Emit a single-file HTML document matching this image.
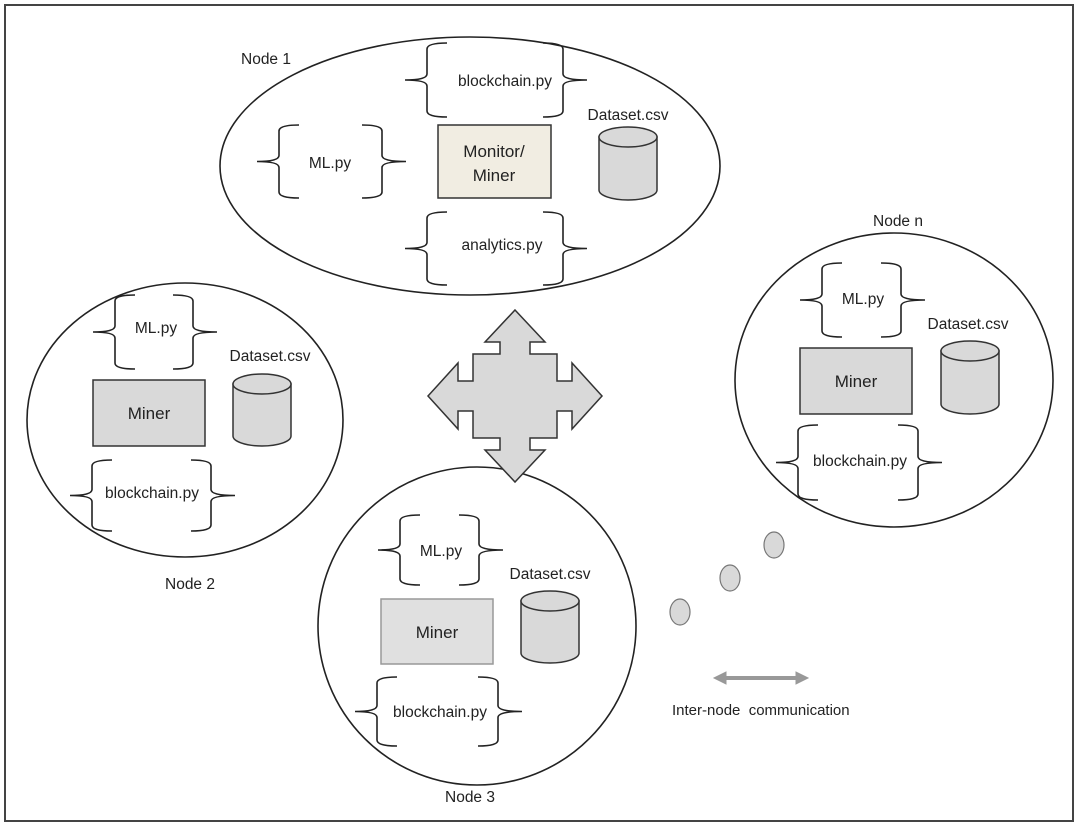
<!DOCTYPE html>
<html><head><meta charset="utf-8"><style>
html,body{margin:0;padding:0;background:#fff;}
svg{display:block}
text{font-family:"Liberation Sans",Arial,sans-serif;fill:#222;}
</style></head><body>
<svg id="s" width="1080" height="823" viewBox="0 0 1080 823" xmlns="http://www.w3.org/2000/svg">
<rect x="5" y="5" width="1068" height="816" fill="#fff" stroke="#444" stroke-width="2"/>
<g fill="none" stroke="#222" stroke-width="1.6">
<ellipse cx="470" cy="166" rx="250" ry="129"/>
<ellipse cx="185" cy="420" rx="158" ry="137"/>
<ellipse cx="894" cy="380" rx="159" ry="147"/>
<ellipse cx="477" cy="626" rx="159" ry="159"/>
</g>
<polygon transform="translate(515,396)" fill="#d9d9d9" stroke="#333" stroke-width="1.5" points="0,-86 30,-54 15,-54 15,-42 42,-42 42,-15 57,-15 57,-33 87,0 57,33 57,15 42,15 42,42 15,42 15,54 30,54 0,86 -30,54 -15,54 -15,42 -42,42 -42,15 -57,15 -57,33 -87,0 -57,-33 -57,-15 -42,-15 -42,-42 -15,-42 -15,-54 -30,-54"/>
<g id="br" fill="none" stroke="#222" stroke-width="1.6"></g>
<g id="cy"></g>
<rect x="438" y="125" width="113" height="73" fill="#f1ede2" stroke="#333" stroke-width="1.5"/>
<rect x="93" y="380" width="112" height="66" fill="#d9d9d9" stroke="#333" stroke-width="1.5"/>
<rect x="800" y="348" width="112" height="66" fill="#d9d9d9" stroke="#333" stroke-width="1.5"/>
<rect x="381" y="599" width="112" height="65" fill="#e0e0e0" stroke="#999" stroke-width="1.5"/>
<g fill="#d9d9d9" stroke="#777" stroke-width="1.2">
<ellipse cx="680" cy="612" rx="10" ry="13"/>
<ellipse cx="730" cy="578" rx="10" ry="13"/>
<ellipse cx="774" cy="545" rx="10" ry="13"/>
</g>
<g stroke="#999" fill="#999">
<line x1="722" y1="678" x2="800" y2="678" stroke-width="4"/>
<polygon points="714,678 726,672 726,684"/>
<polygon points="808,678 796,672 796,684"/>
</g>
<g font-size="15.5">
<text x="241" y="64">Node 1</text>
<text x="505" y="86" text-anchor="middle">blockchain.py</text>
<text x="330" y="168" text-anchor="middle">ML.py</text>
<text x="494" y="157" text-anchor="middle" font-size="17">Monitor/</text>
<text x="494" y="181" text-anchor="middle" font-size="17">Miner</text>
<text x="628" y="120" text-anchor="middle">Dataset.csv</text>
<text x="502" y="250" text-anchor="middle">analytics.py</text>

<text x="156" y="333" text-anchor="middle">ML.py</text>
<text x="149" y="419" text-anchor="middle" font-size="17">Miner</text>
<text x="270" y="361" text-anchor="middle">Dataset.csv</text>
<text x="152" y="498" text-anchor="middle">blockchain.py</text>
<text x="190" y="589" text-anchor="middle">Node 2</text>

<text x="898" y="226" text-anchor="middle">Node n</text>
<text x="863" y="304" text-anchor="middle">ML.py</text>
<text x="856" y="387" text-anchor="middle" font-size="17">Miner</text>
<text x="968" y="329" text-anchor="middle">Dataset.csv</text>
<text x="860" y="466" text-anchor="middle">blockchain.py</text>

<text x="441" y="556" text-anchor="middle">ML.py</text>
<text x="437" y="638" text-anchor="middle" font-size="17">Miner</text>
<text x="550" y="579" text-anchor="middle">Dataset.csv</text>
<text x="440" y="717" text-anchor="middle">blockchain.py</text>
<text x="470" y="802" text-anchor="middle">Node 3</text>

<text x="672" y="715" font-size="15" xml:space="preserve">Inter-node  communication</text>
</g>
</svg>
<script>
var NS="http://www.w3.org/2000/svg";
function brace(L,R,T,B){
 var M=(T+B)/2,a=L+22,b=R-24,p="";
 p+="M"+(a+20)+","+T+" Q"+a+","+T+" "+a+","+(T+6)+" L"+a+","+(M-6)+" Q"+a+","+M+" "+L+","+M+" Q"+a+","+M+" "+a+","+(M+6)+" L"+a+","+(B-6)+" Q"+a+","+B+" "+(a+20)+","+B;
 p+=" M"+(b-20)+","+T+" Q"+b+","+T+" "+b+","+(T+6)+" L"+b+","+(M-6)+" Q"+b+","+M+" "+R+","+M+" Q"+b+","+M+" "+b+","+(M+6)+" L"+b+","+(B-6)+" Q"+b+","+B+" "+(b-20)+","+B;
 var e=document.createElementNS(NS,"path");e.setAttribute("d",p);document.getElementById("br").appendChild(e);
}
[[405,587,43,117],[257,406,125,198],[405,587,212,285],
 [93,217,295,369],[70,235,460,531],
 [800,925,263,337],[776,942,425,500],
 [378,503,515,585],[355,522,677,746]].forEach(function(v){brace.apply(null,v)});
function cyl(x1,x2,t,b){
 var cx=(x1+x2)/2,rx=(x2-x1)/2,ry=10,g=document.getElementById("cy");
 var p=document.createElementNS(NS,"path");
 p.setAttribute("d","M"+x1+","+(t+ry)+" L"+x1+","+(b-ry)+" A"+rx+","+ry+" 0 0 0 "+x2+","+(b-ry)+" L"+x2+","+(t+ry)+" Z");
 p.setAttribute("fill","#d9d9d9");p.setAttribute("stroke","#333");p.setAttribute("stroke-width","1.5");g.appendChild(p);
 var e=document.createElementNS(NS,"ellipse");
 e.setAttribute("cx",cx);e.setAttribute("cy",t+ry);e.setAttribute("rx",rx);e.setAttribute("ry",ry);
 e.setAttribute("fill","#d9d9d9");e.setAttribute("stroke","#333");e.setAttribute("stroke-width","1.5");g.appendChild(e);
}
cyl(599,657,127,200);cyl(233,291,374,446);cyl(941,999,341,414);cyl(521,579,591,663);
</script>
</body></html>
